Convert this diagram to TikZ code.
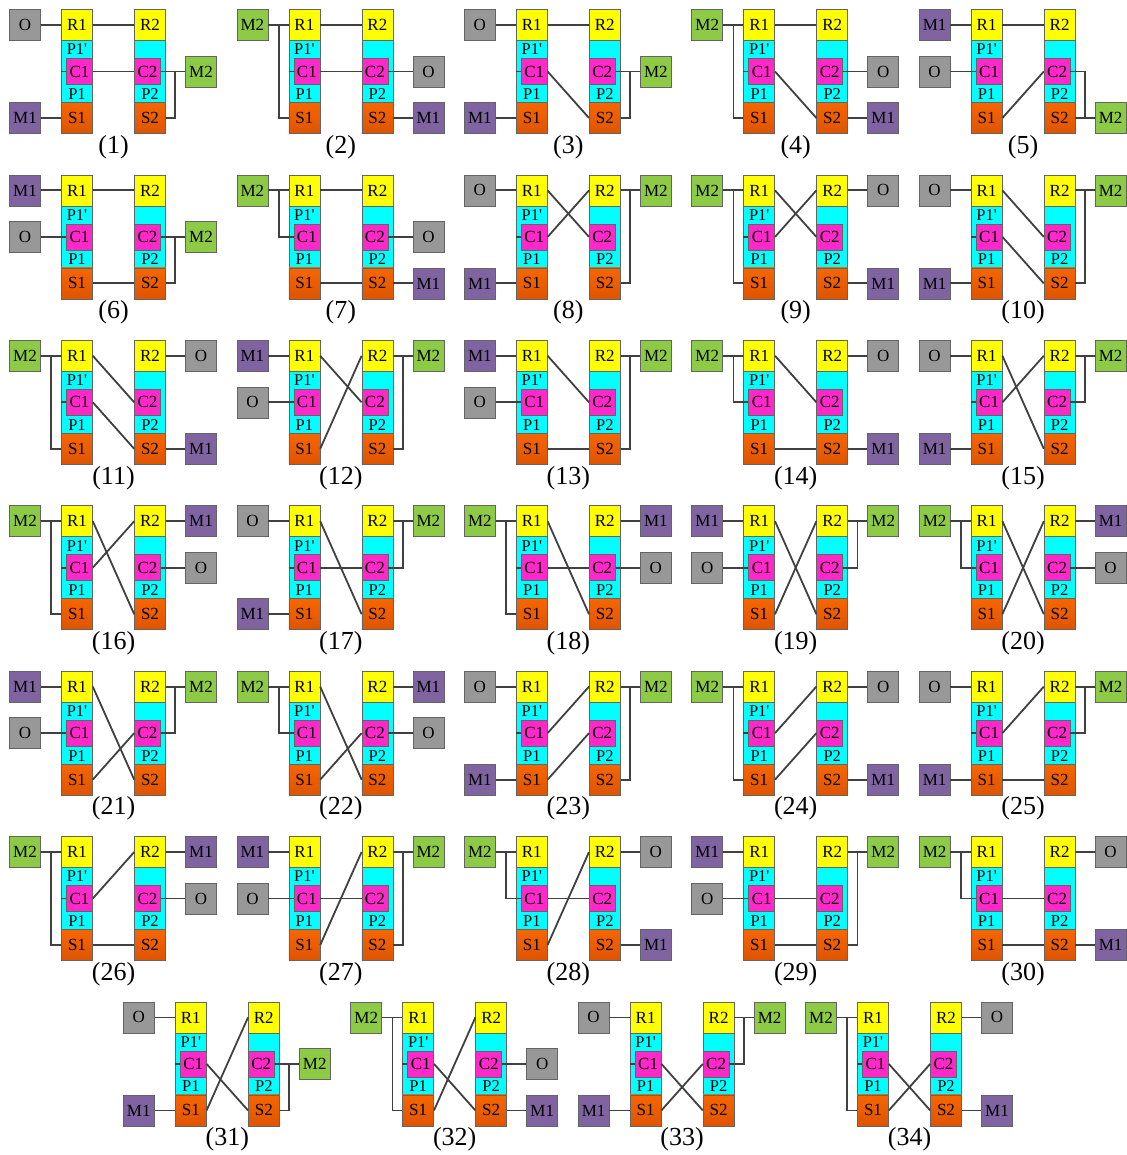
\documentclass[tikz,border=0pt]{standalone}
\usepackage{fontspec}
\setmainfont{Liberation Serif}
\definecolor{cY}{RGB}{255,255,0}
\definecolor{cC}{RGB}{0,255,255}
\definecolor{cMg}{RGB}{255,40,200}
\definecolor{cOr}{RGB}{246,102,0}
\definecolor{cOrD}{RGB}{222,84,0}
\definecolor{cGr}{RGB}{152,152,152}
\definecolor{cPu}{RGB}{128,100,162}
\definecolor{cGn}{RGB}{141,203,70}
\definecolor{cLn}{RGB}{64,64,64}
\definecolor{cBd}{RGB}{100,100,100}
\tikzset{
 bx/.style={draw=cBd, line width=0.6pt, inner sep=0pt, minimum width=31pt, minimum height=31pt, font=\fontsize{17}{18}\selectfont, text=black},
 ybox/.style={bx, fill=cY},
 sbox/.style={bx, top color=cOr, bottom color=cOrD},
 cbox/.style={bx, fill=cC, minimum height=62pt},
 mbox/.style={bx, fill=cMg, minimum width=26pt, minimum height=26pt},
 obox/.style={bx, fill=cGr},
 pbox/.style={bx, fill=cPu},
 gbox/.style={bx, fill=cGn},
 ptxt/.style={inner sep=0pt, font=\fontsize{16.5}{17}\selectfont},
 lab/.style={inner sep=0pt, font=\fontsize{26}{27}\selectfont},
 wire/.style={draw=cLn, line width=1.8pt},
}
\newcommand{\pbase}{%
 \node[cbox] (Q1) at (67.5,62) {};
 \node[ybox] (R1) at (67.5,15.5) {R1};
 \node[sbox] (S1) at (67.5,108.5) {S1};
 \node[mbox] (C1) at (70,62) {C1};
 \node[ptxt] (P1a) at (67.5,40) {P1\textquotesingle};
 \node[ptxt] (P1b) at (67.5,84.5) {P1};
 \node[cbox] (Q2) at (140.5,62) {};
 \node[ybox] (R2) at (140.5,15.5) {R2};
 \node[sbox] (S2) at (140.5,108.5) {S2};
 \node[mbox] (C2) at (138,62) {C2};
 \node[ptxt] (P2) at (140.5,84.5) {P2};
 \draw[wire] (Q1.west |- C1.west) -- (C1.west);
 \coordinate (LT) at (15.5,15.5);
 \coordinate (LM) at (15.5,62);
 \coordinate (LB) at (15.5,108.5);
 \coordinate (RT) at (191.5,15.5);
 \coordinate (RM) at (191.5,62);
 \coordinate (RB) at (191.5,108.5);
}
\newcommand{\pnl}[4]{%
 \begin{scope}[shift={(#1,#2)},name prefix=p#3-]
 \pbase
 \node[lab] (L) at (104,137.5) {(#3)};
 #4
 \end{scope}}
\newcommand{\lnk}[2]{\draw[wire] (#1.east) -- (#2.west);}
\newcommand{\lftA}{\node[obox] (O) at (LT) {O}; \node[pbox] (M1) at (LB) {M1}; \draw[wire] (O.east) -- (R1.west) (M1.east) -- (S1.west);}
\newcommand{\lftB}{\node[gbox] (M2) at (LT) {M2}; \draw[wire] (M2.east) -- (R1.west) (M2.east) ++(10.5,0) |- (S1.west);}
\newcommand{\lftC}{\node[pbox] (M1) at (LT) {M1}; \node[obox] (O) at (LM) {O}; \draw[wire] (M1.east) -- (R1.west) (O.east) -- (C1.west);}
\newcommand{\lftD}{\node[gbox] (M2) at (LT) {M2}; \draw[wire] (M2.east) -- (R1.west) (M2.east) ++(10.5,0) |- (C1.west);}
\newcommand{\rgtMB}{\node[gbox] (M2) at (RM) {M2}; \draw[wire] (C2.east) -- (M2.west) (M2.west) ++(-10,0) |- (S2.east);}
\newcommand{\rgtBB}{\node[gbox] (M2) at (RB) {M2}; \draw[wire] (S2.east) -- (M2.west) (M2.west) ++(-10,0) |- (C2.east);}
\newcommand{\rgtTS}{\node[gbox] (M2) at (RT) {M2}; \draw[wire] (R2.east) -- (M2.west) (M2.west) ++(-10,0) |- (S2.east);}
\newcommand{\rgtTC}{\node[gbox] (M2) at (RT) {M2}; \draw[wire] (R2.east) -- (M2.west) (M2.west) ++(-10,0) |- (C2.east);}
\newcommand{\rgtOM}{\node[obox] (O) at (RM) {O}; \node[pbox] (M1) at (RB) {M1}; \draw[wire] (C2.east) -- (O.west) (S2.east) -- (M1.west);}
\newcommand{\rgtOT}{\node[obox] (O) at (RT) {O}; \node[pbox] (M1) at (RB) {M1}; \draw[wire] (R2.east) -- (O.west) (S2.east) -- (M1.west);}
\newcommand{\rgtMO}{\node[pbox] (M1) at (RT) {M1}; \node[obox] (O) at (RM) {O}; \draw[wire] (R2.east) -- (M1.west) (C2.east) -- (O.west);}
\begin{document}
\begin{tikzpicture}[x=1pt,y=-1pt]
\useasboundingbox (0,0) rectangle (1126,1155);
% row 1
\pnl{9.5}{9.5}{1}{\lftA \lnk{R1}{R2}\lnk{C1}{C2}\rgtMB}
\pnl{236.9}{9.5}{2}{\lftB \lnk{R1}{R2}\lnk{C1}{C2}\rgtOM}
\pnl{464.3}{9.5}{3}{\lftA \lnk{R1}{R2}\lnk{C1}{S2}\rgtMB}
\pnl{691.7}{9.5}{4}{\lftB \lnk{R1}{R2}\lnk{C1}{S2}\rgtOM}
\pnl{919.1}{9.5}{5}{\lftC \lnk{R1}{R2}\lnk{S1}{C2}\rgtBB}
% row 2
\pnl{9.5}{174.9}{6}{\lftC \lnk{R1}{R2}\lnk{S1}{S2}\rgtMB}
\pnl{236.9}{174.9}{7}{\lftD \lnk{R1}{R2}\lnk{S1}{S2}\rgtOM}
\pnl{464.3}{174.9}{8}{\lftA \lnk{R1}{C2}\lnk{C1}{R2}\rgtTS}
\pnl{691.7}{174.9}{9}{\lftB \lnk{R1}{C2}\lnk{C1}{R2}\rgtOT}
\pnl{919.1}{174.9}{10}{\lftA \lnk{R1}{C2}\lnk{C1}{S2}\rgtTS}
% row 3
\pnl{9.5}{340.3}{11}{\lftB \lnk{R1}{C2}\lnk{C1}{S2}\rgtOT}
\pnl{236.9}{340.3}{12}{\lftC \lnk{R1}{C2}\lnk{S1}{R2}\rgtTS}
\pnl{464.3}{340.3}{13}{\lftC \lnk{R1}{C2}\lnk{S1}{S2}\rgtTS}
\pnl{691.7}{340.3}{14}{\lftD \lnk{R1}{C2}\lnk{S1}{S2}\rgtOT}
\pnl{919.1}{340.3}{15}{\lftA \lnk{R1}{S2}\lnk{C1}{R2}\rgtTC}
% row 4
\pnl{9.5}{505.7}{16}{\lftB \lnk{R1}{S2}\lnk{C1}{R2}\rgtMO}
\pnl{236.9}{505.7}{17}{\lftA \lnk{R1}{S2}\lnk{C1}{C2}\rgtTC}
\pnl{464.3}{505.7}{18}{\lftB \lnk{R1}{S2}\lnk{C1}{C2}\rgtMO}
\pnl{691.7}{505.7}{19}{\lftC \lnk{R1}{S2}\lnk{S1}{R2}\rgtTC}
\pnl{919.1}{505.7}{20}{\lftD \lnk{R1}{S2}\lnk{S1}{R2}\rgtMO}
% row 5
\pnl{9.5}{671.1}{21}{\lftC \lnk{R1}{S2}\lnk{S1}{C2}\rgtTC}
\pnl{236.9}{671.1}{22}{\lftD \lnk{R1}{S2}\lnk{S1}{C2}\rgtMO}
\pnl{464.3}{671.1}{23}{\lftA \lnk{C1}{R2}\lnk{S1}{C2}\rgtTS}
\pnl{691.7}{671.1}{24}{\lftB \lnk{C1}{R2}\lnk{S1}{C2}\rgtOT}
\pnl{919.1}{671.1}{25}{\lftA \lnk{C1}{R2}\lnk{S1}{S2}\rgtTC}
% row 6
\pnl{9.5}{836.5}{26}{\lftB \lnk{C1}{R2}\lnk{S1}{S2}\rgtMO}
\pnl{236.9}{836.5}{27}{\lftC \lnk{S1}{R2}\lnk{C1}{C2}\rgtTS}
\pnl{464.3}{836.5}{28}{\lftD \lnk{S1}{R2}\lnk{C1}{C2}\rgtOT}
\pnl{691.7}{836.5}{29}{\lftC \lnk{C1}{C2}\lnk{S1}{S2}\rgtTS}
\pnl{919.1}{836.5}{30}{\lftD \lnk{C1}{C2}\lnk{S1}{S2}\rgtOT}
% row 7
\pnl{123.3}{1001.9}{31}{\lftA \lnk{S1}{R2}\lnk{C1}{S2}\rgtMB}
\pnl{350.7}{1001.9}{32}{\lftB \lnk{S1}{R2}\lnk{C1}{S2}\rgtOM}
\pnl{578.1}{1001.9}{33}{\lftA \lnk{C1}{S2}\lnk{S1}{C2}\rgtTC}
\pnl{805.5}{1001.9}{34}{\lftB \lnk{C1}{S2}\lnk{S1}{C2}\rgtOT}
\end{tikzpicture}
\end{document}
